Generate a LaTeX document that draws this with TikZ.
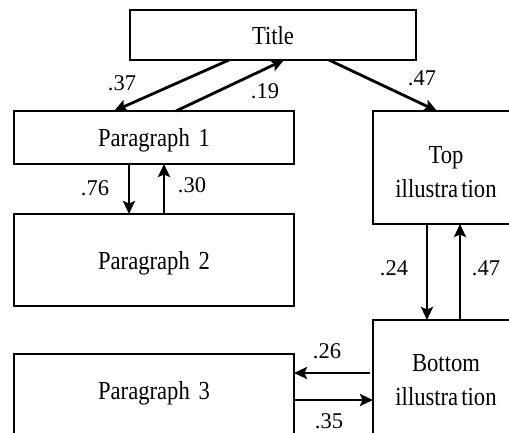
\documentclass[tikz,border=0pt]{standalone}
\usepackage{fontspec}
\setmainfont{Liberation Serif}
\newfontfamily\boxfont{Liberation Serif}[FakeStretch=0.87]
\usetikzlibrary{arrows.meta}
\begin{document}
\begin{tikzpicture}[x=1pt,y=-1pt,
  box/.style={draw, line width=1.6pt, inner sep=0pt, outer sep=0pt, font=\boxfont\fontsize{26}{34}\selectfont, text depth=0pt},
  txt/.style={inner sep=0pt, font=\boxfont\fontsize{26}{34}\selectfont, align=center},
  lab/.style={inner sep=0pt, font=\fontsize{22.5}{26}\selectfont},
  arr/.style={line width=2.8pt, -{Stealth[length=13pt,width=12pt,inset=2.5pt]}}]
\useasboundingbox (0,0) rectangle (509,432);
\clip (0,0) rectangle (509,432);
% boxes
\node[box, minimum width=286, minimum height=50] (title) at (273,35) {Title};
\node[box, minimum width=280, minimum height=53] (p1) at (154,137.5) {Paragraph\hspace{0.12em} 1};
\node[box, minimum width=280, minimum height=92] (p2) at (154,260) {Paragraph\hspace{0.12em} 2};
\node[box, minimum width=280, minimum height=96] (p3) at (154,402) {};
\node[txt] (p3t) at (154,393) {Paragraph\hspace{0.12em} 3};
\node[box, minimum width=147, minimum height=113] (top) at (446.5,167.5) {};
\node[txt] (topt) at (446,172) {Top\\illustra\hspace{0.12em}tion};
\node[box, minimum width=147, minimum height=125] (bot) at (446.5,382.5) {};
\node[txt] (bott) at (446,380) {Bottom\\illustra\hspace{0.12em}tion};
% arrows
\draw[arr] ([xshift=99pt]title.south west) -- ([xshift=100pt]p1.north west);
\draw[arr] ([xshift=162pt]p1.north west) -- ([xshift=154pt]title.south west);
\draw[arr] ([xshift=199pt]title.south west) -- ([xshift=64pt]top.north west);
\draw[arr] ([xshift=115pt]p1.south west) -- ([xshift=115pt]p2.north west);
\draw[arr] ([xshift=150pt]p2.north west) -- ([xshift=150pt]p1.south west);
\draw[arr] ([xshift=54pt]top.south west) -- ([xshift=54pt]bot.north west);
\draw[arr] ([xshift=87pt]bot.north west) -- ([xshift=87pt]top.south west);
\draw[arr] ([xshift=-3pt,yshift=-53pt]bot.north west) -- ([yshift=-19pt]p3.north east);
\draw[arr] ([yshift=-46pt]p3.north east) -- ([yshift=-80pt]bot.north west);
% labels
\node[lab] (l1) at (122,83) {.37};
\node[lab] (l2) at (265,91) {.19};
\node[lab] (l3) at (422,78) {.47};
\node[lab] (l4) at (95,188) {.76};
\node[lab] (l5) at (192,185) {.30};
\node[lab] (l6) at (394,268) {.24};
\node[lab] (l7) at (486,268) {.47};
\node[lab] (l8) at (327,351) {.26};
\node[lab] (l9) at (329,421) {.35};
\end{tikzpicture}
\end{document}
